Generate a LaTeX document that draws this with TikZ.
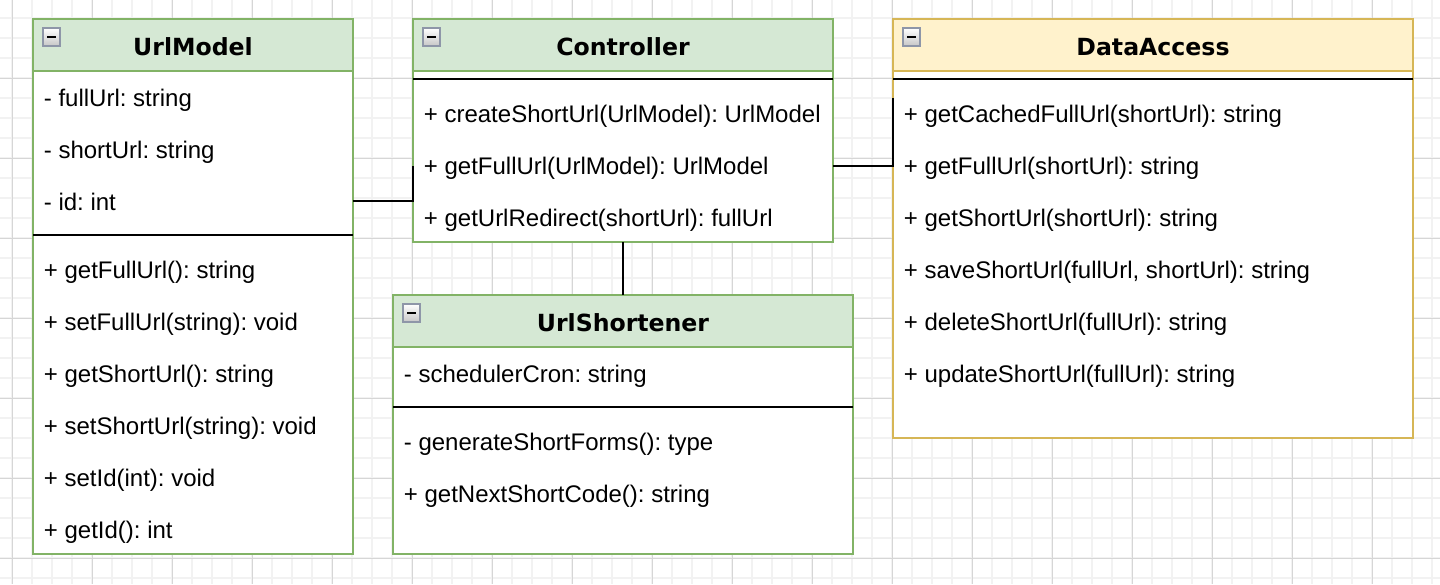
\documentclass[tikz,border=0pt]{standalone}
\usepackage{fontspec}
\setmainfont{Liberation Sans}
\newfontfamily\hdrfont{DejaVu Sans}
\usetikzlibrary{calc}
\definecolor{gfill}{HTML}{D5E8D4}
\definecolor{gstroke}{HTML}{82B366}
\definecolor{yfill}{HTML}{FFF2CC}
\definecolor{ystroke}{HTML}{D6B656}
\definecolor{gridminor}{HTML}{F2F2F2}
\definecolor{gridmajor}{HTML}{D6D6D6}
\definecolor{iconborder}{HTML}{8E96A8}
\newcommand\classframe[8]{%
  % #1 name, #2 x1, #3 y1, #4 x2, #5 y2, #6 fill, #7 stroke, #8 header bottom y
  \fill[white] (#2,#3) rectangle (#4,#5);
  \fill[#6] (#2,#3) rectangle (#4,#8);
  \draw[#7, line width=1pt] (#2,#8) -- (#4,#8);
  \node[classbox, draw=#7, minimum width={(#4-#2)*0.5pt}, minimum height={(#5-#3)*0.5pt}] (#1) at (#2,#3) {};
  \shade[top color=white, bottom color=black!22, draw=iconborder, line width=0.8pt]
    ({#2+10},{#3+9}) rectangle ({#2+27},{#3+27});
  \draw[black, line width=1pt] ({#2+14},{#3+18}) -- ({#2+23},{#3+18});
}
\begin{document}
\frenchspacing
\begin{tikzpicture}[x=0.5pt,y=-0.5pt,
  classbox/.style={rectangle, line width=1pt, inner sep=0pt, outer sep=0pt, anchor=north west},
  member/.style={anchor=base west, inner sep=0pt, font=\fontsize{12}{14}\selectfont},
  head/.style={anchor=base, inner sep=0pt, font=\hdrfont\bfseries\fontsize{11.8}{14}\selectfont},
  sepline/.style={black, line width=1pt},
  conn/.style={black, line width=1pt}]
\fill[white] (0,0) rectangle (1440,584);
\useasboundingbox (0,0) rectangle (1440,584);
% grid
\foreach \i in {0,...,71} \draw[gridminor, line width=1pt] ({12.3+20*\i},0) -- ({12.3+20*\i},584);
\foreach \j in {1,...,29} \draw[gridminor, line width=1pt] (0,{-1.7+20*\j}) -- (1440,{-1.7+20*\j});
\foreach \i in {0,...,17} \draw[gridmajor, line width=0.5pt] ({12.3+80*\i},0) -- ({12.3+80*\i},584);
\foreach \j in {1,...,7} \draw[gridmajor, line width=0.5pt] (0,{-1.7+80*\j}) -- (1440,{-1.7+80*\j});

% UrlModel
\classframe{um}{33}{19}{353}{554}{gfill}{gstroke}{71}
\draw[sepline] (33,235) -- (353,235);
\node[head] (umh) at (193,55) {UrlModel};
\node[member] (um1) at (43.5,106) {- fullUrl: string};
\node[member] (um2) at (43.5,158) {- shortUrl: string};
\node[member] (um3) at (43.5,210) {- id: int};
\node[member] (um4) at (43.5,278) {+ getFullUrl(): string};
\node[member] (um5) at (43.5,330) {+ setFullUrl(string): void};
\node[member] (um6) at (43.5,382) {+ getShortUrl(): string};
\node[member] (um7) at (43.5,434) {+ setShortUrl(string): void};
\node[member] (um8) at (43.5,486) {+ setId(int): void};
\node[member] (um9) at (43.5,538) {+ getId(): int};

% Controller
\classframe{ctrl}{413}{19}{833}{242}{gfill}{gstroke}{71}
\draw[sepline] (413,79) -- (833,79);
\node[head] (ch) at (623,55) {Controller};
\node[member] (c1) at (423.5,122) {+ createShortUrl(UrlModel): UrlModel};
\node[member] (c2) at (423.5,174) {+ getFullUrl(UrlModel): UrlModel};
\node[member] (c3) at (423.5,226) {+ getUrlRedirect(shortUrl): fullUrl};

% DataAccess
\classframe{da}{893}{19}{1413}{438}{yfill}{ystroke}{71}
\draw[sepline] (893,79) -- (1413,79);
\node[head] (dh) at (1153,55) {DataAccess};
\node[member] (d1) at (903.5,122) {+ getCachedFullUrl(shortUrl): string};
\node[member] (d2) at (903.5,174) {+ getFullUrl(shortUrl): string};
\node[member] (d3) at (903.5,226) {+ getShortUrl(shortUrl): string};
\node[member] (d4) at (903.5,278) {+ saveShortUrl(fullUrl, shortUrl): string};
\node[member] (d5) at (903.5,330) {+ deleteShortUrl(fullUrl): string};
\node[member] (d6) at (903.5,382) {+ updateShortUrl(fullUrl): string};

% UrlShortener
\classframe{us}{393}{295}{853}{554}{gfill}{gstroke}{347}
\draw[sepline] (393,407) -- (853,407);
\node[head] (ush) at (623,331) {UrlShortener};
\node[member] (us1) at (403.5,382) {- schedulerCron: string};
\node[member] (us2) at (403.5,450) {- generateShortForms(): type};
\node[member] (us3) at (403.5,502) {+ getNextShortCode(): string};

% connectors
\draw[conn] (um.east |- 0,201) -| (ctrl.west |- 0,166);
\draw[conn] (ctrl.east |- 0,166) -| (da.west |- 0,98);
\draw[conn] (ctrl.south) -- (us.north);
\end{tikzpicture}
\end{document}
